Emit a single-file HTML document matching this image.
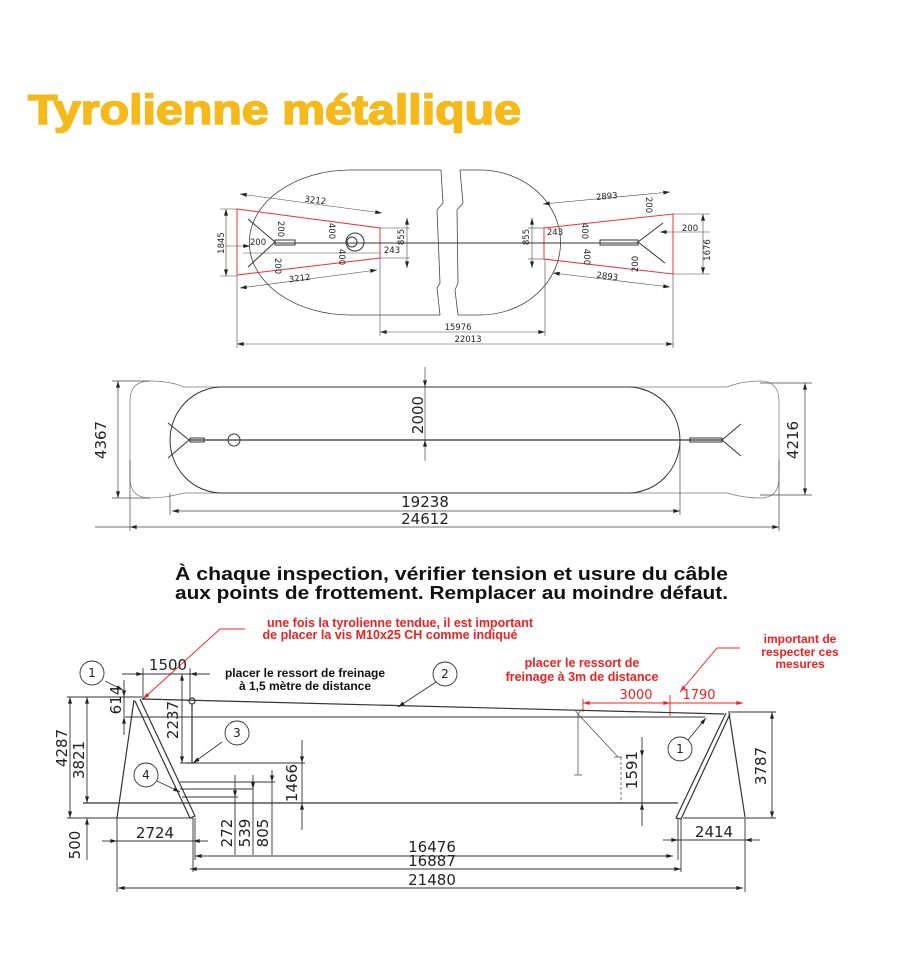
<!DOCTYPE html>
<html><head><meta charset="utf-8"><style>
html,body{margin:0;padding:0;background:#fff;}
svg{display:block;}
.t{font-family:"DejaVu Sans","Liberation Sans",sans-serif;fill:#222;}
.b{font-family:"Liberation Sans",sans-serif;font-weight:bold;}
</style></head><body>
<svg width="900" height="962" viewBox="0 0 900 962" xmlns="http://www.w3.org/2000/svg">
<defs>
<marker id="a" viewBox="0 0 10 6" refX="10" refY="3" markerWidth="8" markerHeight="4" markerUnits="userSpaceOnUse" orient="auto-start-reverse"><path d="M0,0L10,3L0,6z" fill="#222"/></marker>
<marker id="r" viewBox="0 0 10 6" refX="10" refY="3" markerWidth="8" markerHeight="4" markerUnits="userSpaceOnUse" orient="auto-start-reverse"><path d="M0,0L10,3L0,6z" fill="#f02020"/></marker>
</defs>

<!-- Title -->
<text x="28" y="124" class="b" font-size="42" fill="#f5b91a" stroke="#f5b91a" stroke-width="1.6" textLength="493" lengthAdjust="spacingAndGlyphs">Tyrolienne métallique</text>

<!-- ===== Top plan ===== -->
<g fill="none" stroke="#444" stroke-width="0.8">
<path d="M441,170 L350,170 A100,72 0 0 0 350,315 L440,315"/>
<path d="M441,170 L443,203 L437,210 L440,283 L437,288 L440,315"/>
<path d="M460,170 L463,203 L457,210 L458,283 L455,290 L458,315"/>
<path d="M460,170 L480,170 A80,72 0 0 1 480,315 L458,315"/>
</g>
<g fill="none" stroke="#f03030" stroke-width="1">
<path d="M237,209 L380,228 L380,258 L237,275 Z"/>
<path d="M544,228 L673,214 L673,274 L544,259 Z"/>
</g>
<g stroke="#333" stroke-width="1" fill="none">
<line x1="275" y1="243" x2="638" y2="243"/>
<path d="M248,219 L275,242 L248,267"/>
<path d="M663,223 L638,242 L665,263"/>
<rect x="275" y="240" width="20" height="5"/>
<circle cx="355" cy="242" r="9"/><circle cx="352" cy="242" r="5"/>
<rect x="600" y="240" width="38" height="5"/>
</g>
<g stroke="#444" stroke-width="0.6" fill="none">
<line x1="240" y1="194" x2="382" y2="213" marker-start="url(#a)" marker-end="url(#a)"/>
<line x1="240" y1="288" x2="377" y2="270" marker-start="url(#a)" marker-end="url(#a)"/>
<line x1="226" y1="209" x2="226" y2="276" marker-start="url(#a)" marker-end="url(#a)"/>
<line x1="220" y1="209" x2="237" y2="209"/><line x1="220" y1="276" x2="237" y2="276"/>
<line x1="226" y1="246" x2="250" y2="246" marker-end="url(#a)"/>
<line x1="407" y1="218" x2="407" y2="268" marker-start="url(#a)" marker-end="url(#a)"/>
<line x1="380" y1="228" x2="410" y2="228"/><line x1="380" y1="258" x2="410" y2="258"/>
<line x1="532" y1="218" x2="532" y2="268" marker-start="url(#a)" marker-end="url(#a)"/>
<line x1="528" y1="228" x2="544" y2="228"/><line x1="528" y1="259" x2="544" y2="259"/>
<line x1="543" y1="204" x2="670" y2="192" marker-start="url(#a)" marker-end="url(#a)"/>
<line x1="553" y1="273" x2="670" y2="287" marker-start="url(#a)" marker-end="url(#a)"/>
<line x1="703" y1="214" x2="703" y2="274" marker-start="url(#a)" marker-end="url(#a)"/>
<line x1="673" y1="214" x2="710" y2="214"/><line x1="673" y1="274" x2="710" y2="274"/>
<line x1="710" y1="232" x2="660" y2="232" marker-end="url(#a)"/>
<line x1="380" y1="332" x2="545" y2="332" marker-start="url(#a)" marker-end="url(#a)"/>
<line x1="237" y1="344" x2="673" y2="344" marker-start="url(#a)" marker-end="url(#a)"/>
<line x1="380" y1="258" x2="380" y2="336"/><line x1="545" y1="259" x2="545" y2="336"/>
<line x1="237" y1="276" x2="237" y2="348"/><line x1="673" y1="274" x2="673" y2="348"/>
<line x1="243" y1="253" x2="380" y2="253"/>
</g>
<g class="t" font-size="8.5">
<text x="315" y="203" text-anchor="middle" transform="rotate(7 315 203)">3212</text>
<text x="300" y="281" text-anchor="middle" transform="rotate(-7 300 281)">3212</text>
<text transform="translate(224,243) rotate(-90)" text-anchor="middle">1845</text>
<text x="258" y="245" text-anchor="middle">200</text>
<text transform="translate(278,229) rotate(90)" text-anchor="middle">200</text>
<text transform="translate(275,266) rotate(90)" text-anchor="middle">200</text>
<text transform="translate(329,231) rotate(90)" text-anchor="middle">400</text>
<text transform="translate(339,257) rotate(90)" text-anchor="middle">400</text>
<text transform="translate(404,237) rotate(-90)" text-anchor="middle">855</text>
<text x="392" y="253" text-anchor="middle">243</text>
<text transform="translate(529,237) rotate(-90)" text-anchor="middle">855</text>
<text x="555" y="235" text-anchor="middle">243</text>
<text transform="translate(582,231) rotate(90)" text-anchor="middle">400</text>
<text transform="translate(584,257) rotate(90)" text-anchor="middle">400</text>
<text transform="translate(646,205) rotate(90)" text-anchor="middle">200</text>
<text transform="translate(638,264) rotate(-90)" text-anchor="middle">200</text>
<text x="690" y="231" text-anchor="middle">200</text>
<text transform="translate(710,250) rotate(-90)" text-anchor="middle">1676</text>
<text x="607" y="199" text-anchor="middle" transform="rotate(-5 607 199)">2893</text>
<text x="607" y="279" text-anchor="middle" transform="rotate(7 607 279)">2893</text>
<text x="458" y="330" text-anchor="middle">15976</text>
<text x="468" y="342" text-anchor="middle">22013</text>
</g>

<!-- ===== Middle plan ===== -->
<g fill="none" stroke="#777" stroke-width="0.7">
<path d="M184,387 C175,383 165,381 150,381 Q130,381 130,401 L130,478 Q130,498 150,498 C165,498 175,495 184,493 L727,493 C737,496 747,498 760,498 Q779,498 779,478 L779,401 Q779,381 760,381 C747,381 737,383 727,387 Z"/>
</g>
<g fill="none" stroke="#333" stroke-width="1">
<path d="M222,387 L628,387 A52,53 0 0 1 628,493 L222,493 A52,53 0 0 1 222,387 Z"/>
<line x1="189" y1="440" x2="722" y2="440" stroke-width="1.3"/>
<path d="M168,423 L189,440 L168,458"/>
<path d="M741,424 L722,440 L741,456"/>
<rect x="190" y="438" width="14" height="4"/>
<circle cx="234" cy="440" r="6"/>
<rect x="690" y="438" width="32" height="4"/>
</g>
<g stroke="#444" stroke-width="0.7" fill="none">
<line x1="425" y1="367" x2="425" y2="387" marker-end="url(#a)"/>
<line x1="425" y1="461" x2="425" y2="440" marker-end="url(#a)"/>
<line x1="425" y1="387" x2="425" y2="440"/>
<line x1="118" y1="381" x2="118" y2="498" marker-start="url(#a)" marker-end="url(#a)"/>
<line x1="112" y1="381" x2="150" y2="381"/><line x1="112" y1="498" x2="150" y2="498"/>
<line x1="805" y1="383" x2="805" y2="495" marker-start="url(#a)" marker-end="url(#a)"/>
<line x1="760" y1="383" x2="812" y2="383"/><line x1="760" y1="495" x2="812" y2="495"/>
<line x1="172" y1="511" x2="680" y2="511" marker-start="url(#a)" marker-end="url(#a)"/>
<line x1="170" y1="493" x2="170" y2="515"/><line x1="680" y1="440" x2="680" y2="515"/>
<line x1="130" y1="527" x2="779" y2="527" marker-start="url(#a)" marker-end="url(#a)"/>
<line x1="130" y1="460" x2="130" y2="531"/><line x1="779" y1="460" x2="779" y2="531"/>
<line x1="95" y1="527" x2="130" y2="527"/>
</g>
<g class="t" font-size="15">
<text transform="translate(423,415) rotate(-90)" text-anchor="middle">2000</text>
<text transform="translate(106,440) rotate(-90)" text-anchor="middle">4367</text>
<text transform="translate(798,440) rotate(-90)" text-anchor="middle">4216</text>
<text x="425" y="507" text-anchor="middle">19238</text>
<text x="425" y="524" text-anchor="middle">24612</text>
</g>

<!-- Warning text -->
<text x="175" y="580" class="b" font-size="18" fill="#111" textLength="553" lengthAdjust="spacingAndGlyphs">À chaque inspection, vérifier tension et usure du câble</text>
<text x="175" y="599" class="b" font-size="18" fill="#111" textLength="553" lengthAdjust="spacingAndGlyphs">aux points de frottement. Remplacer au moindre défaut.</text>

<!-- ===== Elevation ===== -->
<g class="b" font-size="12.5" fill="#f02020" text-anchor="middle">
<text x="400" y="627">une fois la tyrolienne tendue, il est important</text>
<text x="390" y="639">de placer la vis M10x25 CH comme indiqué</text>
<text x="582" y="667">placer le ressort de</text>
<text x="582" y="681">freinage à 3m de distance</text>
</g>
<g class="b" font-size="12" fill="#f02020" text-anchor="middle">
<text x="800" y="643">important de</text>
<text x="800" y="656">respecter ces</text>
<text x="800" y="668">mesures</text>
</g>
<g class="b" font-size="12" fill="#111" text-anchor="middle">
<text x="305" y="677">placer le ressort de freinage</text>
<text x="305" y="690">à 1,5 mètre de distance</text>
</g>
<g stroke="#f02020" stroke-width="0.9" fill="none">
<path d="M245,629 L220,629 L143,699" marker-end="url(#r)"/>
<path d="M740,648 L717,648 L680,692" marker-end="url(#r)"/>
<line x1="583" y1="703" x2="670" y2="703" marker-start="url(#r)" marker-end="url(#r)"/>
<line x1="670" y1="703" x2="743" y2="703" marker-end="url(#r)"/>
<line x1="583" y1="699" x2="583" y2="712"/><line x1="670" y1="695" x2="670" y2="716"/>
</g>
<g class="t" font-size="13" fill="#f02020" text-anchor="middle">
<text x="636" y="699" fill="#f02020">3000</text>
<text x="699" y="699" fill="#f02020">1790</text>
</g>

<g stroke="#333" stroke-width="1.2" fill="none">
<line x1="142" y1="699" x2="724" y2="714"/>
<line x1="134" y1="700" x2="117" y2="818"/>
<path d="M135,701 L190,818 L195,816 L140,699"/>
<path d="M726,713 L676,818 L681,819 L730,714"/>
<line x1="729" y1="713" x2="745" y2="817"/>
<circle cx="192" cy="701" r="3"/>
<line x1="192" y1="704" x2="192" y2="763"/>
<line x1="186" y1="763" x2="198" y2="763"/>
</g>
<g stroke="#555" stroke-width="0.8" fill="none">
<path d="M575,710 L581,710 L578,714 Z"/>
<line x1="578" y1="714" x2="578" y2="775"/>
<line x1="574" y1="775" x2="582" y2="775"/>
<line x1="578" y1="714" x2="618" y2="757"/>
<line x1="614" y1="757" x2="622" y2="757"/>
<line x1="621" y1="757" x2="621" y2="803" stroke-dasharray="3,2"/>
</g>
<g stroke="#333" stroke-width="0.9" fill="none">
<line x1="83" y1="803" x2="678" y2="803" stroke-width="1.2"/>
<line x1="67" y1="818" x2="193" y2="818"/>
<line x1="683" y1="818" x2="776" y2="818"/>
<line x1="67" y1="697" x2="142" y2="697"/>
<line x1="125" y1="717" x2="705" y2="717"/>
<line x1="728" y1="712" x2="776" y2="712"/>
<line x1="180" y1="763" x2="305" y2="763"/>
<line x1="180" y1="782" x2="275" y2="782"/>
<line x1="180" y1="789" x2="253" y2="789"/>
<line x1="182" y1="797" x2="238" y2="797"/>
<line x1="70" y1="697" x2="70" y2="818" marker-start="url(#a)" marker-end="url(#a)"/>
<line x1="87" y1="697" x2="87" y2="803" marker-start="url(#a)" marker-end="url(#a)"/>
<line x1="87" y1="860" x2="87" y2="818" marker-end="url(#a)"/>
<line x1="124" y1="680" x2="124" y2="697" marker-end="url(#a)"/>
<line x1="124" y1="735" x2="124" y2="717" marker-end="url(#a)"/>
<line x1="124" y1="697" x2="124" y2="717"/>
<line x1="122" y1="674" x2="143" y2="674" marker-end="url(#a)"/>
<line x1="210" y1="674" x2="190" y2="674" marker-end="url(#a)"/>
<line x1="143" y1="674" x2="190" y2="674"/>
<line x1="143" y1="668" x2="143" y2="700"/><line x1="190" y1="668" x2="190" y2="700"/>
<line x1="182" y1="674" x2="182" y2="763" marker-start="url(#a)" marker-end="url(#a)"/>
<line x1="302" y1="740" x2="302" y2="763" marker-end="url(#a)"/>
<line x1="302" y1="830" x2="302" y2="803" marker-end="url(#a)"/>
<line x1="302" y1="763" x2="302" y2="803"/>
<line x1="235" y1="775" x2="235" y2="797" marker-end="url(#a)"/>
<line x1="235" y1="855" x2="235" y2="797"/>
<line x1="253" y1="775" x2="253" y2="789" marker-end="url(#a)"/>
<line x1="253" y1="855" x2="253" y2="789"/>
<line x1="272" y1="770" x2="272" y2="782" marker-end="url(#a)"/>
<line x1="272" y1="855" x2="272" y2="782"/>
<line x1="102" y1="841" x2="117" y2="841" marker-end="url(#a)"/>
<line x1="208" y1="841" x2="193" y2="841" marker-end="url(#a)"/>
<line x1="117" y1="841" x2="193" y2="841"/>
<line x1="195" y1="856" x2="673" y2="856" marker-start="url(#a)" marker-end="url(#a)"/>
<line x1="190" y1="869" x2="681" y2="869" marker-start="url(#a)" marker-end="url(#a)"/>
<line x1="118" y1="888" x2="743" y2="888" marker-start="url(#a)" marker-end="url(#a)"/>
<line x1="117" y1="818" x2="117" y2="892"/>
<line x1="193" y1="818" x2="193" y2="872"/>
<line x1="195" y1="818" x2="195" y2="860"/>
<line x1="678" y1="818" x2="678" y2="860"/>
<line x1="681" y1="818" x2="681" y2="872"/>
<line x1="745" y1="818" x2="745" y2="892"/>
<line x1="642" y1="737" x2="642" y2="757" marker-end="url(#a)"/>
<line x1="642" y1="826" x2="642" y2="803" marker-end="url(#a)"/>
<line x1="642" y1="757" x2="642" y2="803"/>
<line x1="772" y1="712" x2="772" y2="818" marker-start="url(#a)" marker-end="url(#a)"/>
<line x1="663" y1="840" x2="678" y2="840" marker-end="url(#a)"/>
<line x1="760" y1="840" x2="745" y2="840" marker-end="url(#a)"/>
<line x1="678" y1="840" x2="745" y2="840"/>
<line x1="105" y1="681" x2="123" y2="690" marker-end="url(#a)"/>
<line x1="436" y1="682" x2="398" y2="707" marker-end="url(#a)"/>
<line x1="222" y1="742" x2="193" y2="763" marker-end="url(#a)"/>
<line x1="157" y1="781" x2="180" y2="792" marker-end="url(#a)"/>
<line x1="688" y1="740" x2="706" y2="718" marker-end="url(#a)"/>
</g>
<g fill="#fff" stroke="#333" stroke-width="0.9">
<circle cx="92" cy="673" r="12"/>
<circle cx="445" cy="674" r="12"/>
<circle cx="237" cy="733" r="12"/>
<circle cx="146" cy="775" r="12"/>
<circle cx="680" cy="749" r="12"/>
</g>
<g class="t" font-size="12" text-anchor="middle">
<text x="92" y="677">1</text><text x="445" y="678">2</text><text x="237" y="737">3</text>
<text x="146" y="779">4</text><text x="680" y="753">1</text>
</g>
<g class="t" font-size="15" text-anchor="middle">
<text x="168" y="670">1500</text>
<text transform="translate(121,700) rotate(-90)">614</text>
<text transform="translate(67,748) rotate(-90)">4287</text>
<text transform="translate(84,760) rotate(-90)">3821</text>
<text transform="translate(80,845) rotate(-90)">500</text>
<text transform="translate(178,720) rotate(-90)">2237</text>
<text transform="translate(297,783) rotate(-90)">1466</text>
<text transform="translate(232,833) rotate(-90)">272</text>
<text transform="translate(250,833) rotate(-90)">539</text>
<text transform="translate(268,833) rotate(-90)">805</text>
<text x="155" y="838">2724</text>
<text transform="translate(637,770) rotate(-90)">1591</text>
<text transform="translate(766,766) rotate(-90)">3787</text>
<text x="714" y="837">2414</text>
<text x="432" y="852">16476</text>
<text x="432" y="866">16887</text>
<text x="432" y="885">21480</text>
</g>
</svg>
</body></html>
